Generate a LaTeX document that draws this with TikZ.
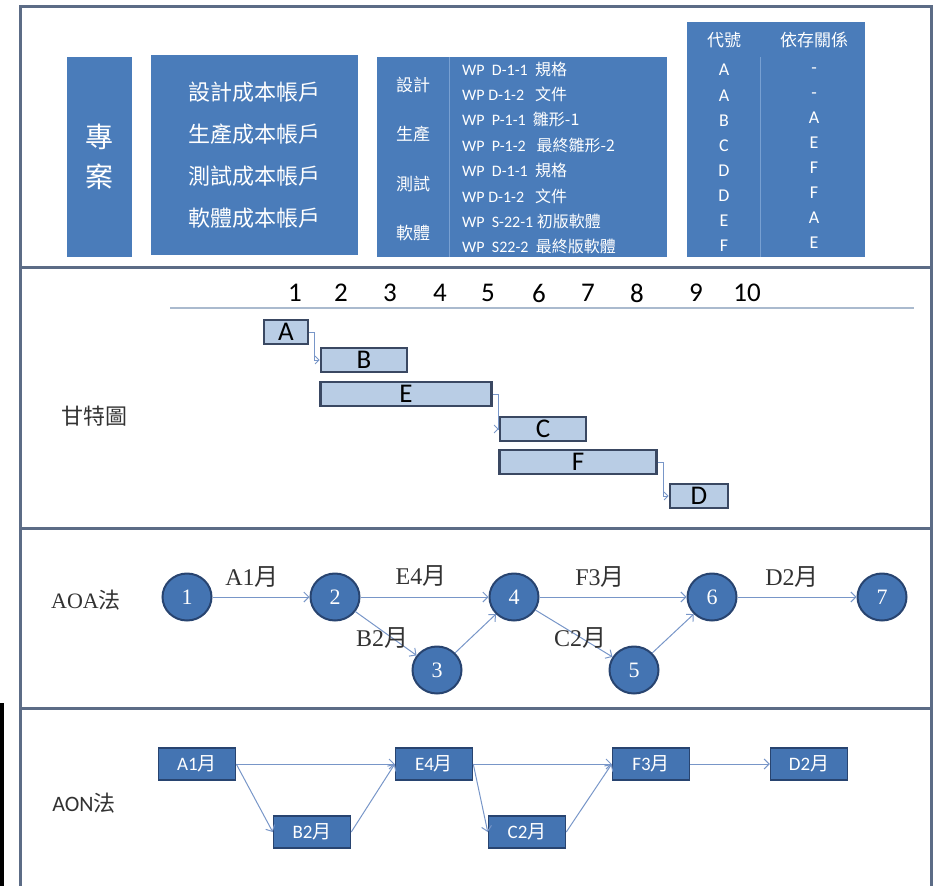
\documentclass[tikz,border=0pt]{standalone}
\usepackage{fontspec}
\setmainfont{Liberation Serif}
\setsansfont{Carlito}
\newfontfamily\cjk{Noto Sans CJK TC}
\usetikzlibrary{shapes.geometric,arrows.meta}

\newcommand{\zh}[1]{{\cjk #1}}
\newcommand{\yue}{\zh{月}}

\definecolor{framegray}{RGB}{92,108,134}
\definecolor{panelblue}{RGB}{74,124,186}
\definecolor{paneldiv}{RGB}{120,160,210}
\definecolor{barfill}{RGB}{185,205,229}
\definecolor{barline}{RGB}{58,72,98}
\definecolor{linkblue}{RGB}{120,150,200}
\definecolor{axisgray}{RGB}{170,186,206}
\definecolor{circblue}{RGB}{68,116,178}
\definecolor{circline}{RGB}{40,68,112}
\definecolor{labelgray}{RGB}{50,50,50}

\begin{document}
\begin{tikzpicture}[
        x=1pt, y=-1pt,
        frame/.style={draw=framegray, line width=3pt},
        panel/.style={fill=panelblue, text=white, inner sep=0pt, align=center},
        divider/.style={draw=paneldiv, line width=0.8pt},
        bar/.style={draw=barline, fill=barfill, line width=2.8pt, minimum height=24pt, inner sep=0pt, font=\sffamily\fontsize{27}{27}\selectfont},
        gline/.style={draw=linkblue, line width=0.8pt, -{Straight Barb[length=4pt,width=8pt]}},
        event/.style={ellipse, draw=circline, fill=circblue, line width=2pt, minimum width=49pt, minimum height=47pt, inner sep=0pt, text=white, font=\fontsize{22}{22}\selectfont},
        task/.style={draw=circline, fill=circblue, line width=1.5pt, minimum width=77pt, minimum height=32pt, inner sep=0pt, text=white, font=\sffamily\fontsize{19}{19}\selectfont},
        link/.style={draw=linkblue, line width=1pt, -{Straight Barb[length=5pt,width=10pt]}},
        alabel/.style={text=labelgray, inner sep=0pt, font=\fontsize{24}{24}\selectfont},
        num/.style={inner sep=0pt, font=\sffamily\fontsize{27}{27}\selectfont}
    ]
    \useasboundingbox (0,0) rectangle (937,886);

    % frame and section dividers
    \draw[frame] (20,886) -- (20,6) -- (931,6) -- (931,886);
    \draw[frame] (20,267) -- (931,267);
    \draw[frame] (20,528) -- (931,528);
    \draw[frame] (20,708) -- (931,708);
    \fill[black] (0,703) rectangle (3.5,886);

    % project breakdown
    \node[panel, minimum width=65pt, minimum height=200pt, font={\cjk\fontsize{28}{40}\selectfont}] (proj) at (99,157) {專\\案};
    \node[panel, minimum width=207pt, minimum height=200pt, font={\cjk\fontsize{22}{42}\selectfont}] (cost) at (254,155)
        {設計成本帳戶\\生產成本帳戶\\測試成本帳戶\\軟體成本帳戶};
    \node[panel, minimum width=290pt, minimum height=200pt] (wpbox) at (522,157) {};
    \draw[divider] ([xshift=73pt]wpbox.north west) -- ([xshift=73pt]wpbox.south west);
    \node[text=white, align=center, inner sep=0pt, font={\cjk\fontsize{17}{49.3}\selectfont}] (group) at (413,159)
        {設計\\生產\\測試\\軟體};
    \node[text=white, align=left, anchor=west, inner sep=0pt, font={\sffamily\fontsize{16}{25.4}\selectfont}] (wp) at (462,158)
        {WP \ D-1-1 \ \zh{規格}\\
         WP D-1-2 \ \ \zh{文件}\\
         WP \ P-1-1 \ \zh{雛形-1}\\
         WP \ P-1-2 \ \ \zh{最終雛形-2}\\
         WP \ D-1-1 \ \zh{規格}\\
         WP D-1-2 \ \ \zh{文件}\\
         WP \ S-22-1 \zh{初版軟體}\\
         WP \ S22-2 \ \zh{最終版軟體}};

    % code and dependency table
    \node[panel, minimum width=178pt, minimum height=235pt] (codes) at (776,139.5) {};
    \draw[divider] (760,57) -- (760,257);
    \node[text=white, inner sep=0pt, font={\cjk\fontsize{17}{17}\selectfont}] (hcode) at (724,40) {代號};
    \node[text=white, inner sep=0pt, font={\cjk\fontsize{17}{17}\selectfont}] (hdep) at (814,40) {依存關係};
    \node[text=white, align=center, inner sep=0pt, font={\sffamily\fontsize{18}{25.1}\selectfont}] (code) at (724,158)
        {A\\A\\B\\C\\D\\D\\E\\F};
    \node[text=white, align=center, inner sep=0pt, font={\sffamily\fontsize{18}{25.1}\selectfont}] (dep) at (814,158)
        {-\\-\\A\\E\\F\\F\\A\\E};

    % gantt chart
    \node[text=labelgray, inner sep=0pt, font={\cjk\fontsize{22}{22}\selectfont}] (gantt) at (94,416) {甘特圖};
    \node[num] (n1) at (295,293) {1};
    \node[num] (n2) at (341,293) {2};
    \node[num] (n3) at (390,293) {3};
    \node[num] (n4) at (440,293) {4};
    \node[num] (n5) at (488,293) {5};
    \node[num] (n6) at (539,293) {6};
    \node[num] (n7) at (588,293) {7};
    \node[num] (n8) at (637,293) {8};
    \node[num] (n9) at (696,293) {9};
    \node[num] (n10) at (747,293) {10};
    \coordinate (axisL) at (170,308);
    \coordinate (axisR) at (914,308);
    \draw[draw=axisgray, line width=2pt] (axisL) -- (axisR);

    \node[bar, minimum width=44pt] (barA) at (286,332) {A};
    \node[bar, minimum width=86pt] (barB) at (364,360) {B};
    \node[bar, minimum width=171pt] (barE) at (406,394) {E};
    \node[bar, minimum width=86pt] (barC) at (543,429) {C};
    \node[bar, minimum width=157pt] (barF) at (578,462) {F};
    \node[bar, minimum width=58pt] (barD) at (699,496) {D};
    \draw[gline] (barA.east) -- ++(5,0) |- (barB.west);
    \draw[gline] (barE.east) -- ++(5,0) |- (barC.west);
    \draw[gline] (barF.east) -- ++(5,0) |- (barD.west);

    % activity on arrow
    \node[alabel, font=\fontsize{22}{22}\selectfont] (aoa) at (86,600) {AOA\zh{法}};
    \node[event] (e1) at (187,597) {1};
    \node[event] (e2) at (335,597) {2};
    \node[event] (e3) at (437,670) {3};
    \node[event] (e4) at (514,597) {4};
    \node[event] (e5) at (634,670) {5};
    \node[event] (e6) at (712,597) {6};
    \node[event] (e7) at (882,597) {7};
    \draw[link] (e1) -- (e2);
    \draw[link] (e2) -- (e4);
    \draw[link] (e2) -- (e3);
    \draw[link] (e3) -- (e4);
    \draw[link] (e4) -- (e6);
    \draw[link] (e4) -- (e5);
    \draw[link] (e5) -- (e6);
    \draw[link] (e6) -- (e7);
    \node[alabel] (lA) at (252,577) {A1\yue};
    \node[alabel] (lE) at (421,576) {E4\yue};
    \node[alabel] (lF) at (600,577) {F3\yue};
    \node[alabel] (lD) at (792,577) {D2\yue};
    \node[alabel] (lB) at (382,638) {B2\yue};
    \node[alabel] (lC) at (580,638) {C2\yue};

    % activity on node
    \node[text=labelgray, inner sep=0pt, font=\sffamily\fontsize{22}{22}\selectfont] (aon) at (84,803) {AON\zh{法}};
    \node[task] (tA) at (197,764) {A1\yue};
    \node[task] (tE) at (434,764) {E4\yue};
    \node[task] (tF) at (651,764) {F3\yue};
    \node[task] (tD) at (809,764) {D2\yue};
    \node[task] (tB) at (312,832) {B2\yue};
    \node[task] (tC) at (527,832) {C2\yue};
    \draw[link] (tA.east) -- (tE.west);
    \draw[link] (tA.east) -- (tB.west);
    \draw[link] (tB.east) -- (tE.west);
    \draw[link] (tE.east) -- (tF.west);
    \draw[link] (tE.east) -- (tC.west);
    \draw[link] (tC.east) -- (tF.west);
    \draw[link] (tF.east) -- (tD.west);

\end{tikzpicture}
\end{document}
